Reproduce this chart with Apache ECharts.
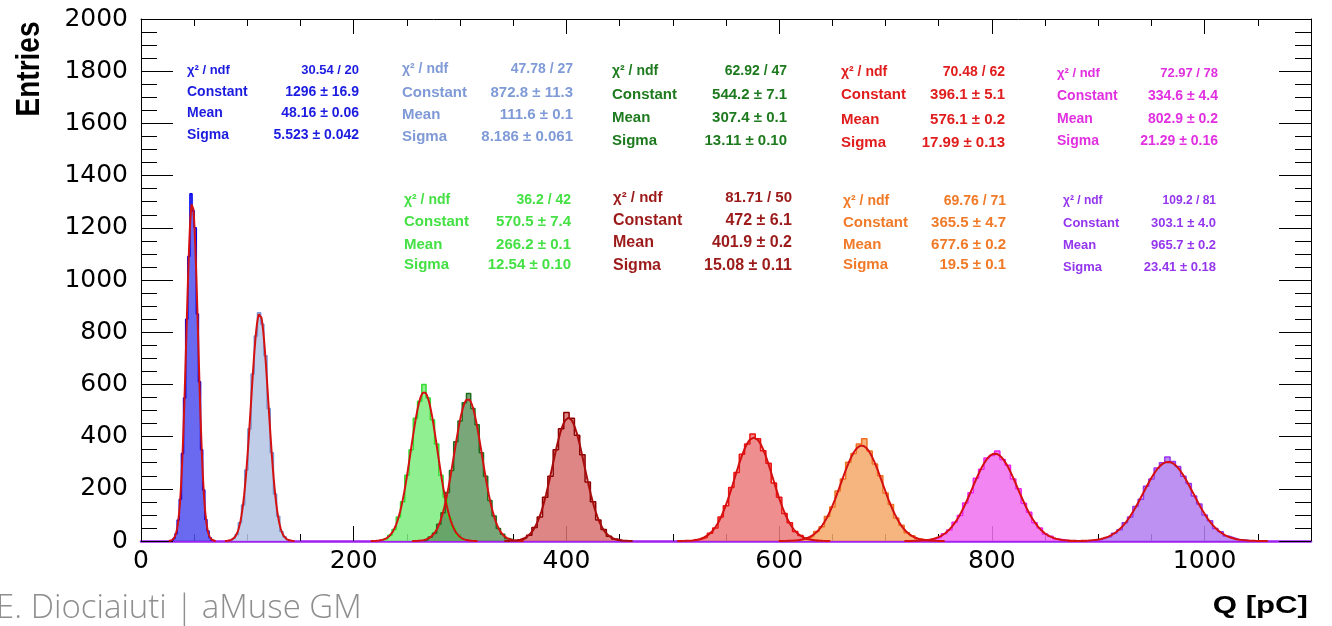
<!DOCTYPE html>
<html>
<head>
<meta charset="utf-8">
<title>Q spectrum</title>
<script src="https://cdn.jsdelivr.net/npm/echarts@6.0.0/dist/echarts.min.js"></script>
<style>
html, body { margin: 0; padding: 0; background: #fff; }
#main { width: 1332px; height: 626px; }
</style>
</head>
<body>
<div id="main"></div>
<script>
// fit results, one entry per peak (ordered by mean)
var chi2 = ['30.54 / 20', '47.78 / 27', '36.2 / 42', '62.92 / 47', '81.71 / 50', '70.48 / 62', '69.76 / 71', '72.97 / 78', '109.2 / 81'];
var constants = [1296, 872.8, 570.5, 544.2, 472, 396.1, 365.5, 334.6, 303.1];
var constErr = ['16.9', '11.3', '7.4', '7.1', '6.1', '5.1', '4.7', '4.4', '4.0'];
var means = [48.16, 111.6, 266.2, 307.4, 401.9, 576.1, 677.6, 802.9, 965.7];
var meanErr = ['0.06', '0.1', '0.1', '0.1', '0.2', '0.2', '0.2', '0.2', '0.2'];
var sigmas = [5.523, 8.186, 12.54, 13.11, 15.08, 17.99, 19.5, 21.29, 23.41];
var sigmaErr = ['0.042', '0.061', '0.10', '0.10', '0.11', '0.13', '0.1', '0.16', '0.18'];

// histogram bins (entries)
var histLow = [30, 85.5, 228, 266, 352.5, 517.5, 612.5, 732.5, 892.5];
var binWidth = [2, 3, 4, 4, 5, 5, 5, 5, 5];
var hist1 = [10, 28, 80, 160, 335, 548, 850, 1090, 1330, 1265, 1200, 870, 610, 350, 195, 82, 38, 12];
var hist2 = [10, 25, 70, 138, 272, 430, 640, 785, 875, 830, 710, 508, 338, 180, 95, 36, 16, 5];
var hist3 = [8, 22, 44, 92, 150, 252, 350, 470, 535, 600, 548, 465, 372, 252, 168, 90, 50, 21, 9];
var hist4 = [5, 15, 30, 64, 108, 186, 270, 380, 460, 530, 565, 508, 445, 338, 248, 155, 96, 48, 26, 10, 5];
var hist5 = [4, 11, 22, 52, 92, 168, 248, 350, 430, 492, 470, 405, 330, 226, 150, 80, 44, 18, 8, 3];
var hist6 = [3, 8, 14, 30, 50, 92, 135, 205, 262, 332, 372, 410, 392, 346, 298, 222, 168, 105, 70, 36, 21, 9, 4, 2];
var hist7 = [2, 5, 11, 18, 36, 55, 94, 130, 192, 238, 302, 335, 372, 392, 345, 295, 250, 184, 140, 88, 60, 32, 20, 9, 5, 2];
var hist8 = [2, 4, 9, 14, 28, 42, 72, 98, 146, 185, 240, 275, 318, 328, 345, 312, 290, 238, 200, 145, 110, 70, 50, 27, 18, 8, 5, 2];
var hist9 = [3, 5, 12, 17, 30, 43, 70, 92, 132, 160, 210, 238, 280, 300, 322, 305, 285, 248, 220, 172, 142, 100, 78, 48, 35, 19, 13, 6, 4, 2];
var hists = [hist1, hist2, hist3, hist4, hist5, hist6, hist7, hist8, hist9];

var statLabels = ['\u03c7\u00b2 / ndf', 'Constant', 'Mean', 'Sigma'];

// colours per peak
var textColors = ['#1c1ce0', '#7f9ad6', '#44e044', '#1e7a1e', '#9c1a1a', '#e01c1c', '#f07a28', '#e030e0', '#9436ee'];
var lineColors = ['#0000ee', '#7b96d4', '#33dd33', '#1e6e1e', '#8b0000', '#ee1111', '#f07020', '#ee22ee', '#9933ee'];
var fillColors = ['#5050ee', '#b4c4e4', '#7cec7c', '#629862', '#d87070', '#ec7a7a', '#f4a868', '#f070f0', '#b07ef0'];

// stat box placement: left x, right x, row ys, font size
var boxes = [
	{ l: 187, r: 359, ys: [70, 92, 113, 135], fs: 14 },
	{ l: 402, r: 573, ys: [69, 93, 115, 137], fs: 15 },
	{ l: 404, r: 571, ys: [200, 222, 245, 265], fs: 15 },
	{ l: 612, r: 787, ys: [71, 95, 118, 141], fs: 15 },
	{ l: 613, r: 792, ys: [198, 221, 243, 266], fs: 16 },
	{ l: 841, r: 1005, ys: [72, 95, 120, 143], fs: 15 },
	{ l: 843, r: 1006, ys: [201, 223, 245, 265], fs: 15 },
	{ l: 1057, r: 1218, ys: [73, 96, 119, 141], fs: 14 },
	{ l: 1063, r: 1216, ys: [201, 223, 245, 267], fs: 13 }
];

function histData(k){
	var arr = hists[k], lo = histLow[k], w = binWidth[k];
	var out = [[lo, 0]];
	for (var i = 0; i < arr.length; i++) out.push([lo + i * w, arr[i]]);
	out.push([lo + arr.length * w, 0]);
	return out;
}

// gaussian fit curve from the printed fit parameters
function fitData(k){
	var c = constants[k], m = means[k], s = sigmas[k], out = [];
	for (var i = -40; i <= 40; i++) {
		var x = m + i * s / 10;
		out.push([x, c * Math.exp(-0.5 * Math.pow((x - m) / s, 2))]);
	}
	return out;
}

var series = [];
for (var k = 0; k < hists.length; k++) {
	series.push({
		type: 'line', step: 'end', data: histData(k), showSymbol: false, silent: true,
		lineStyle: { color: lineColors[k], width: 1.5 },
		areaStyle: { color: fillColors[k], opacity: 0.85 },
		z: 2
	});
}
for (var k = 0; k < hists.length; k++) {
	series.push({
		type: 'line', data: fitData(k), showSymbol: false, silent: true,
		lineStyle: { color: k === 4 ? '#a80c0c' : '#d41010', width: 2 },
		z: 3
	});
}

var graphics = [];
for (var k = 0; k < boxes.length; k++) {
	var b = boxes[k];
	var vals = [
		chi2[k],
		constants[k] + ' \u00b1 ' + constErr[k],
		means[k] + ' \u00b1 ' + meanErr[k],
		sigmas[k] + ' \u00b1 ' + sigmaErr[k]
	];
	for (var r = 0; r < 4; r++) {
		var fs = r === 0 ? b.fs - 1 : b.fs;
		graphics.push({ type: 'text', x: b.l, y: b.ys[r], silent: true,
			style: { text: statLabels[r], font: 'bold ' + fs + 'px "Liberation Sans", Arial', fill: textColors[k], align: 'left', verticalAlign: 'middle' } });
		graphics.push({ type: 'text', x: b.r, y: b.ys[r], silent: true,
			style: { text: vals[r], font: 'bold ' + fs + 'px "Liberation Sans", Arial', fill: textColors[k], align: 'right', verticalAlign: 'middle' } });
	}
}
graphics.push({ type: 'text', x: 30, y: 69, rotation: Math.PI / 2, scaleY: 1.2, silent: true,
	style: { text: 'Entries', font: 'bold 28px "Liberation Sans", Arial', fill: '#000', align: 'center', verticalAlign: 'middle' } });
graphics.push({ type: 'text', x: 1308, y: 606, scaleX: 1.3, silent: true,
	style: { text: 'Q [pC]', font: 'bold 24px "Liberation Sans", Arial', fill: '#000', align: 'right', verticalAlign: 'middle' } });
graphics.push({ type: 'text', x: -4, y: 609, silent: true,
	style: { text: 'E. Diociaiuti | aMuse GM', font: '300 33px "Open Sans", Lato', fill: '#8e8e8e', align: 'left', verticalAlign: 'middle' } });

var labelFont = { fontFamily: '"DejaVu Sans"', fontSize: 25, color: '#000', formatter: function(v){ return String(v); } };

function xAx(pos, labels, lineColor, lineWidth){
	return {
		type: 'value', position: pos, min: 0, max: 1100, interval: 200,
		axisLine: { show: true, onZero: false, lineStyle: { color: lineColor, width: lineWidth } },
		axisTick: { show: true, inside: true, length: 15, lineStyle: { color: '#000', width: 1 } },
		minorTick: { show: true, splitNumber: 4, length: 7, lineStyle: { color: '#000', width: 1 } },
		splitLine: { show: false },
		axisLabel: labels ? Object.assign({ show: true, margin: 8, showMaxLabel: false }, labelFont) : { show: false }
	};
}
function yAx(pos, labels){
	return {
		type: 'value', position: pos, min: 0, max: 2000, interval: 200,
		axisLine: { show: true, onZero: false, lineStyle: { color: '#000', width: 1 } },
		axisTick: { show: true, inside: true, length: 32, lineStyle: { color: '#000', width: 1 } },
		minorTick: { show: true, splitNumber: 4, length: 16, lineStyle: { color: '#000', width: 1 } },
		splitLine: { show: false },
		axisLabel: labels ? Object.assign({ show: true, margin: 13 }, labelFont) : { show: false }
	};
}

var chart = echarts.init(document.getElementById('main'), null, { renderer: 'canvas' });
chart.setOption({
	animation: false,
	backgroundColor: '#fff',
	grid: { left: 141, right: 21, top: 19, bottom: 85 },
	xAxis: [xAx('bottom', true, '#a020f0', 2.5), xAx('top', false, '#000', 1)],
	yAxis: [yAx('left', true), yAx('right', false)],
	series: series,
	graphic: graphics
});
window.onresize = chart.resize;
</script>
</body>
</html>
